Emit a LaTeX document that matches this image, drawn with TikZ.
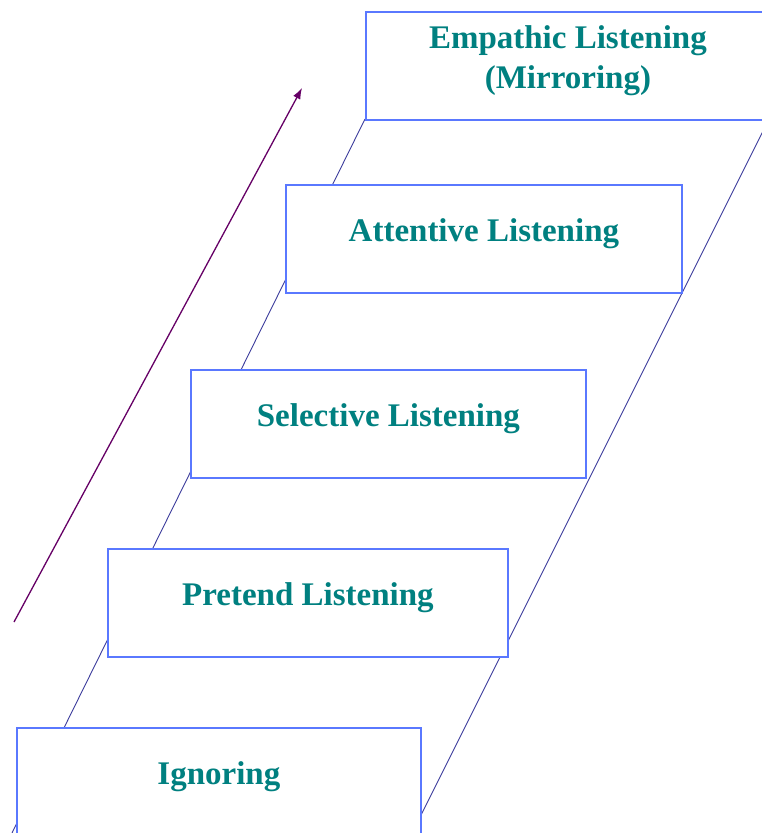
\documentclass[tikz,border=0pt]{standalone}
\usepackage{fontspec}
\setmainfont{Liberation Serif}
\usetikzlibrary{arrows.meta}
\definecolor{boxblue}{HTML}{5A78FF}
\definecolor{railblue}{HTML}{3C3C9C}
\definecolor{stepteal}{HTML}{008080}
\definecolor{arrowpurple}{HTML}{660066}
\begin{document}
\begin{tikzpicture}[x=1pt,y=-1pt,
  stepbox/.style={draw=boxblue, line width=1.8pt, fill=white, anchor=north west,
    minimum height=108pt, inner sep=0pt, text=stepteal,
    font=\fontsize{33}{40}\selectfont\bfseries, align=center,
    text height=22pt, text depth=16pt},
  rail/.style={draw=railblue, line width=0.9pt},
  climb/.style={draw=arrowpurple, line width=1.3pt, -{Latex[length=11pt,width=8pt]}}]
\useasboundingbox (0,0) rectangle (761,833);
\fill[white] (0,0) rectangle (761,833);

% side rails of the staircase (drawn first, hidden behind the steps)
\coordinate (lstart) at (365,119);
\coordinate (lend) at (12,833);
\coordinate (rstart) at (769,119);
\coordinate (rend) at (420,817);
\draw[rail] (lstart) -- (lend);
\draw[rail] (rstart) -- (rend);

% steps
\node[stepbox, minimum width=404pt, text height=62pt] (emp) at (365,11) {Empathic Listening\\(Mirroring)};
\node[stepbox, minimum width=396pt] (att) at (285,184) {Attentive Listening};
\node[stepbox, minimum width=395pt] (sel) at (190,369) {Selective Listening};
\node[stepbox, minimum width=400pt] (pre) at (107,548) {Pretend Listening};
\node[stepbox, minimum width=404pt] (ign) at (16,727) {Ignoring};

% upward arrow
\coordinate (abase) at (14,622);
\coordinate (atip) at (302,88);
\draw[climb] (abase) -- (atip);
\end{tikzpicture}
\end{document}
